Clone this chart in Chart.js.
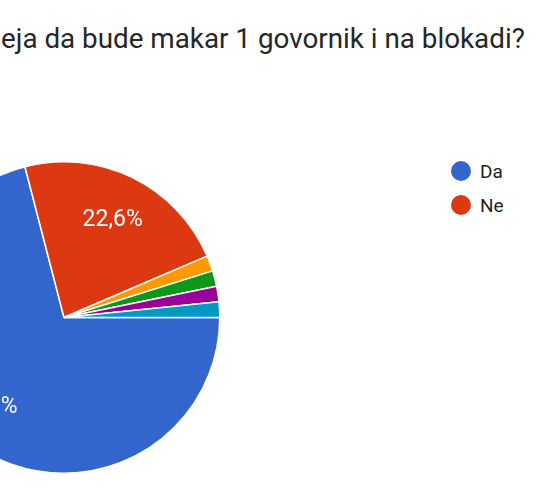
<!DOCTYPE html>
<html lang="sr">
<head>
<meta charset="UTF-8">
<title>Anketa — govornik na blokadi</title>
<script src="https://cdn.jsdelivr.net/npm/chart.js"></script>
<style>
    html, body { margin: 0; padding: 0; background: #fff; overflow: hidden; }
    body { width: 540px; height: 501px; position: relative; font-family: Roboto, Arial, sans-serif; }
    .title { position: absolute; left: 1px; top: 25px; font-size: 27.8px; line-height: 1; color: #262626; white-space: nowrap; }
    .pie-box { position: absolute; left: -200px; top: 0; width: 528px; height: 501px; }
    .legend { position: absolute; left: 451px; top: 154px; list-style: none; margin: 0; padding: 0; }
    .legend li { display: flex; align-items: center; height: 34px; font-size: 19px; color: #222; }
    .legend span.dot { width: 20px; height: 20px; border-radius: 50%; margin-right: 9px; }
</style>
</head>
<body>
<div class="title">eja da bude makar 1 govornik i na blokadi?</div>
<div class="pie-box"><canvas id="pie"></canvas></div>
<ul class="legend" id="legend"></ul>

<script>
    // odgovori (broj glasova)
    const labels = ["Da", "Ne", "Ostalo 1", "Ostalo 2", "Ostalo 3", "Ostalo 4"];
    const votes = [44, 14, 1, 1, 1, 1];
    const colors = ["#3366cc", "#dc3912", "#ff9900", "#109618", "#990099", "#0099c6"];
    const legendItems = ["Da", "Ne"];

    const total = votes.reduce((a, b) => a + b, 0);

    // procenti na isečcima, kao u Google Forms
    const sliceLabels = {
        id: "sliceLabels",
        afterDatasetsDraw(chart) {
            const ctx = chart.ctx;
            const meta = chart.getDatasetMeta(0);
            ctx.save();
            ctx.fillStyle = "#fff";
            ctx.font = "23px Roboto";
            ctx.textAlign = "center";
            ctx.textBaseline = "middle";
            meta.data.forEach((arc, i) => {
                const pct = votes[i] / total * 100;
                if (pct < 5) return;
                const mid = (arc.startAngle + arc.endAngle) / 2;
                const r = arc.outerRadius * 0.71;
                const x = arc.x + Math.cos(mid) * r;
                const y = arc.y + Math.sin(mid) * r;
                let txt = (Math.round(pct * 10) / 10).toString().replace(".", ",") + "%";
                ctx.fillText(txt, x, y + 2);
            });
            ctx.restore();
        }
    };

    new Chart(document.getElementById("pie"), {
        type: "pie",
        data: {
            labels,
            datasets: [{
                data: votes,
                backgroundColor: colors,
                borderColor: "#fff",
                borderWidth: 1.5
            }]
        },
        options: {
            responsive: true,
            maintainAspectRatio: false,
            animation: false,
            rotation: 90,
            layout: { padding: { top: 161, bottom: 27 } },
            plugins: {
                legend: { display: false },
                tooltip: { enabled: false }
            }
        },
        plugins: [sliceLabels]
    });

    const ul = document.getElementById("legend");
    legendItems.forEach(name => {
        const i = labels.indexOf(name);
        const li = document.createElement("li");
        li.innerHTML = `<span class="dot" style="background:${colors[i]}"></span>${name}`;
        ul.appendChild(li);
    });
</script>
</body>
</html>
